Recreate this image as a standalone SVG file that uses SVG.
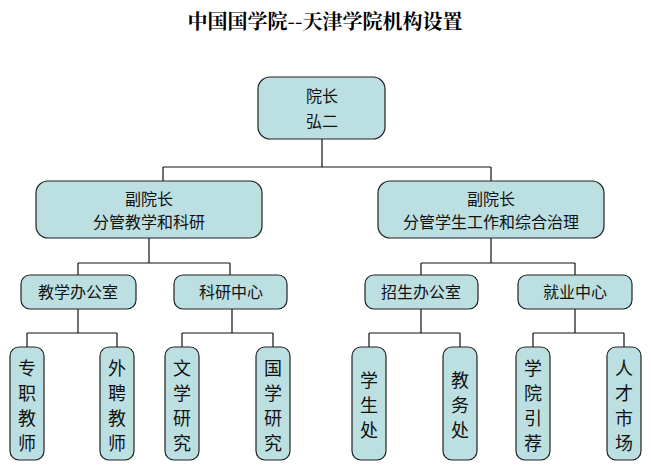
<svg xmlns="http://www.w3.org/2000/svg" width="651" height="476" viewBox="0 0 651 476">
<style>
.b{fill:#bcdfe2;stroke:#222;stroke-width:1.2}
.t{font-family:"Noto Sans CJK SC",sans-serif;font-size:16px;fill:#111;text-anchor:middle}
.v{font-size:18px}
.c{fill:none;stroke:#111;stroke-width:1.2}
</style>
<rect width="651" height="476" fill="#fff"/>
<text x="325" y="29" style="font-family:'Noto Serif CJK SC','Noto Sans CJK SC',serif;font-size:20px;font-weight:bold;text-anchor:middle">中国国学院--天津学院机构设置</text>
<g id="connectors" class="c">
<path d="M322 139V167M163 167H491M163 167V181M491 167V181"/>
<path d="M149 238V263M78 263H230M78 263V275M230 263V275"/>
<path d="M491 238V263M421 263H575M421 263V275M575 263V275"/>
<path d="M78 309V333M27 333H117M27 333V347M117 333V347"/>
<path d="M232 309V333M182 333H273M182 333V347M273 333V347"/>
<path d="M421 309V333M369 333H460M369 333V347M460 333V347"/>
<path d="M575 309V333M533 333H624M533 333V347M624 333V347"/>
</g>
<g id="n0"><rect class="b" x="258" y="77" width="127" height="62" rx="12"/><text class="t" x="322" y="102">院长</text><text class="t" x="322" y="127">弘二</text></g>
<g id="n1"><rect class="b" x="36" y="181" width="226" height="57" rx="12"/><text class="t" x="149" y="205">副院长</text><text class="t" x="149" y="228">分管教学和科研</text></g>
<g id="n2"><rect class="b" x="378" y="181" width="226" height="57" rx="12"/><text class="t" x="491" y="205">副院长</text><text class="t" x="491" y="228">分管学生工作和综合治理</text></g>
<g id="n3"><rect class="b" x="21" y="275" width="115" height="34" rx="9"/><text class="t" x="78" y="298">教学办公室</text></g>
<g id="n4"><rect class="b" x="174" y="275" width="113" height="34" rx="9"/><text class="t" x="231" y="298">科研中心</text></g>
<g id="n5"><rect class="b" x="365" y="275" width="113" height="34" rx="9"/><text class="t" x="421" y="298">招生办公室</text></g>
<g id="n6"><rect class="b" x="518" y="275" width="114" height="34" rx="9"/><text class="t" x="575" y="298">就业中心</text></g>
<g id="n7"><rect class="b" x="10" y="347" width="34" height="113" rx="9"/><text class="t v"><tspan x="27" y="375">专</tspan><tspan x="27" y="400">职</tspan><tspan x="27" y="425">教</tspan><tspan x="27" y="450">师</tspan></text></g>
<g id="n8"><rect class="b" x="100" y="347" width="34" height="113" rx="9"/><text class="t v"><tspan x="117" y="375">外</tspan><tspan x="117" y="400">聘</tspan><tspan x="117" y="425">教</tspan><tspan x="117" y="450">师</tspan></text></g>
<g id="n9"><rect class="b" x="165" y="347" width="34" height="113" rx="9"/><text class="t v"><tspan x="182" y="375">文</tspan><tspan x="182" y="400">学</tspan><tspan x="182" y="425">研</tspan><tspan x="182" y="450">究</tspan></text></g>
<g id="n10"><rect class="b" x="256" y="347" width="34" height="113" rx="9"/><text class="t v"><tspan x="273" y="375">国</tspan><tspan x="273" y="400">学</tspan><tspan x="273" y="425">研</tspan><tspan x="273" y="450">究</tspan></text></g>
<g id="n11"><rect class="b" x="352" y="347" width="34" height="113" rx="9"/><text class="t v"><tspan x="369" y="387">学</tspan><tspan x="369" y="412">生</tspan><tspan x="369" y="437">处</tspan></text></g>
<g id="n12"><rect class="b" x="443" y="347" width="34" height="113" rx="9"/><text class="t v"><tspan x="460" y="387">教</tspan><tspan x="460" y="412">务</tspan><tspan x="460" y="437">处</tspan></text></g>
<g id="n13"><rect class="b" x="516" y="347" width="34" height="113" rx="9"/><text class="t v"><tspan x="533" y="375">学</tspan><tspan x="533" y="400">院</tspan><tspan x="533" y="425">引</tspan><tspan x="533" y="450">荐</tspan></text></g>
<g id="n14"><rect class="b" x="607" y="347" width="34" height="113" rx="9"/><text class="t v"><tspan x="624" y="375">人</tspan><tspan x="624" y="400">才</tspan><tspan x="624" y="425">市</tspan><tspan x="624" y="450">场</tspan></text></g>
</svg>
